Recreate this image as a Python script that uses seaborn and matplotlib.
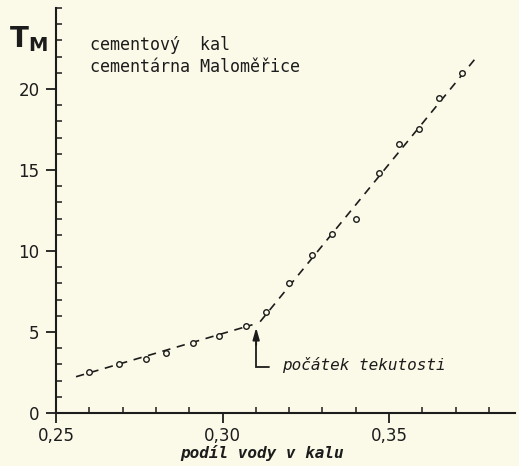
import numpy as np
import pandas as pd
import matplotlib
matplotlib.use("Agg")
import matplotlib.pyplot as plt
import seaborn as sns
from matplotlib.ticker import MultipleLocator, FixedLocator, FuncFormatter

# measured points: water fraction in the slurry vs. T_M
water_fraction = [0.260, 0.269, 0.277, 0.283, 0.291, 0.299, 0.307,
                  0.313, 0.320, 0.327, 0.333, 0.340, 0.347, 0.353,
                  0.359, 0.365, 0.372]
t_m = [2.55, 3.02, 3.33, 3.72, 4.30, 4.77, 5.37,
       6.25, 8.04, 9.75, 11.05, 11.96, 14.83, 16.58,
       17.55, 19.42, 20.97]

# two straight-line trends (start/end of each segment)
low_trend_x = [0.256, 0.3090]
low_trend_y = [2.24, 5.45]
high_trend_x = [0.3113, 0.3768]
high_trend_y = [5.64, 22.10]

# onset of flow marker
onset_x = 0.3101
onset_label = "počátek tekutosti"

x_ticks = [0.25, 0.30, 0.35]
x_tick_labels = ["0,25", "0,30", "0,35"]
y_ticks = [0, 5, 10, 15, 20]

ink = "#1c1c1c"
paper = "#fbf9e7"

sns.set_style("ticks")
plt.rcParams["font.family"] = ["DejaVu Sans"]

fig = plt.figure(figsize=(5.19, 4.66), dpi=100, facecolor=paper)
ax = fig.add_axes([0.108, 0.1137, 0.884, 0.869], facecolor=paper)

df = pd.DataFrame({"w": water_fraction, "t": t_m})

for tx, ty in ((low_trend_x, low_trend_y), (high_trend_x, high_trend_y)):
    sns.lineplot(x=tx, y=ty, ax=ax, color=ink, linewidth=1.2,
                 linestyle=(0, (5, 4)), sort=False, estimator=None)

sns.scatterplot(data=df, x="w", y="t", ax=ax, marker="o", s=16,
                facecolor=paper, edgecolor=ink, linewidth=1.0, zorder=3)

# arrow marking the onset of flow
ax.plot([onset_x + 0.0040, onset_x, onset_x], [2.82, 2.82, 4.4],
        color=ink, linewidth=1.3, solid_joinstyle="miter")
ax.annotate("", xy=(onset_x, 5.27), xytext=(onset_x, 4.2),
            arrowprops=dict(arrowstyle="-|>,head_length=0.7,head_width=0.2",
                            color=ink, lw=1.3, shrinkA=0, shrinkB=0))
ax.text(onset_x + 0.0077, 2.96, onset_label, fontsize=11.5,
        family="DejaVu Sans Mono", style="italic", color=ink,
        ha="left", va="center")

ax.text(0.2602, 22.7, "cementový  kal", fontsize=12,
        family="DejaVu Sans Mono", color=ink, ha="left", va="center")
ax.text(0.2602, 21.35, "cementárna Maloměřice", fontsize=12,
        family="DejaVu Sans Mono", color=ink, ha="left", va="center")

fig.text(9 / 519, 1 - 39 / 466, r"$\mathbf{T}_{\mathbf{M}}$", fontsize=20,
         color=ink, ha="left", va="center")

ax.set_xlim(0.25, 0.3878)
ax.set_ylim(0, 25.0)

ax.xaxis.set_major_locator(FixedLocator(x_ticks))
ax.xaxis.set_major_formatter(FuncFormatter(
    lambda v, p: x_tick_labels[x_ticks.index(round(v, 2))] if round(v, 2) in x_ticks else ""))
ax.xaxis.set_minor_locator(MultipleLocator(0.01))
ax.yaxis.set_major_locator(FixedLocator(y_ticks))
ax.yaxis.set_minor_locator(MultipleLocator(1))

ax.tick_params(which="major", direction="out", length=7, width=1.3,
               color=ink, labelcolor=ink, labelsize=12, pad=5)
ax.tick_params(which="minor", direction="in", length=4.5, width=1.1, color=ink)
ax.tick_params(axis="x", which="major", pad=3)

for side in ("top", "right"):
    ax.spines[side].set_visible(False)
for side in ("left", "bottom"):
    ax.spines[side].set_color(ink)
    ax.spines[side].set_linewidth(1.5)

ax.set_ylabel("")
ax.set_xlabel("podíl vody v kalu", fontsize=11.5, family="DejaVu Sans Mono",
              style="italic", fontweight="bold", color=ink)
ax.xaxis.set_label_coords((0.3119 - 0.25) / (0.3878 - 0.25), -0.078)

fig.savefig("out.png", dpi=100, facecolor=paper)
